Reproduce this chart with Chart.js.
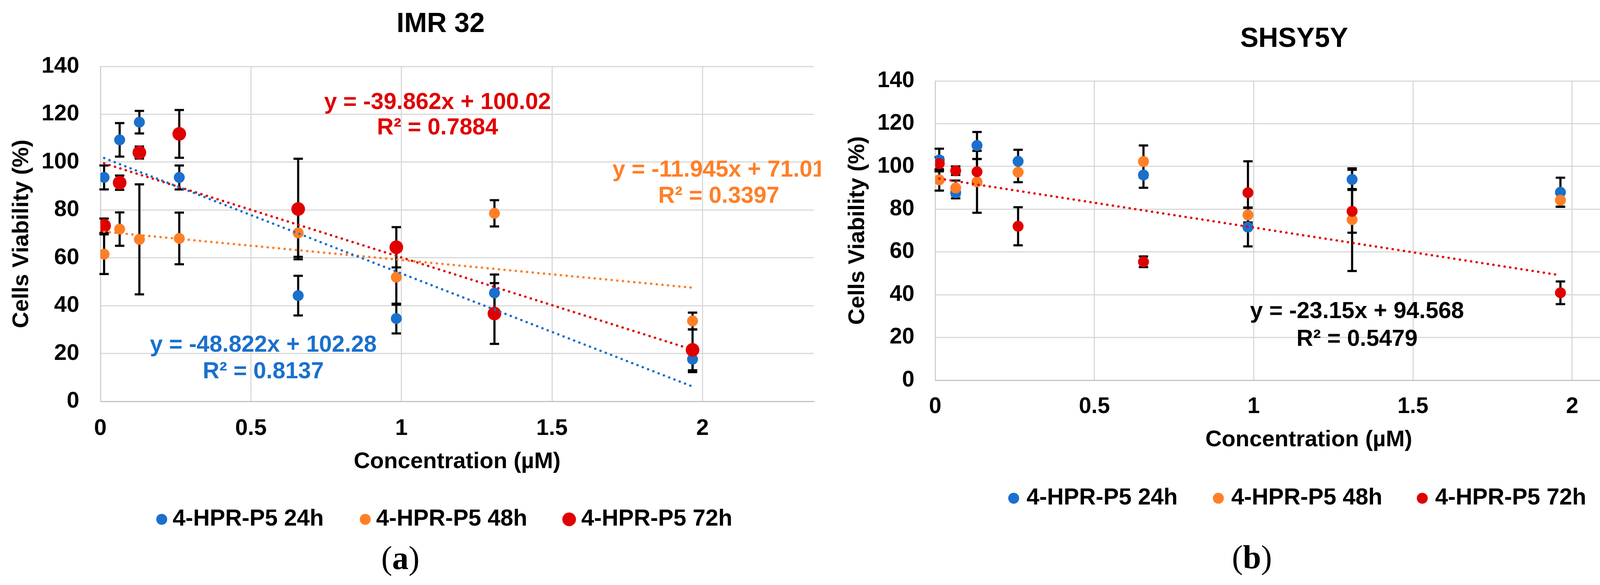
<!DOCTYPE html>
<html>
<head>
<meta charset="utf-8">
<script src="https://cdn.jsdelivr.net/npm/chart.js@4.4.1/dist/chart.umd.min.js"></script>
<style>
    body {
        margin: 0;
        background: #fff;
        width: 4355px;
        height: 1497px;
        position: relative;
        overflow: hidden;
    }
    #imr { position: absolute; left: 0; top: 0; }
    #sh { position: absolute; left: 2150px; top: 0; }
    .cap {
        position: absolute;
        font-family: "Liberation Serif", "Times New Roman", serif;
        font-size: 84px;
        line-height: 1;
        transform: translate(-50%, -50%);
        color: #000;
    }
</style>
</head>
<body>
<canvas id="imr" width="2101" height="1370"></canvas>
<canvas id="sh" width="2205" height="1370"></canvas>
<div class="cap" style="left:1025px;top:1428px">(<b>a</b>)</div>
<div class="cap" style="left:3205px;top:1426px">(<b>b</b>)</div>

<script>
"use strict";

/**
 * Datos
 */
const seriesLabels = ["4-HPR-P5 24h", "4-HPR-P5 48h", "4-HPR-P5 72h"];
const xTickValues = [0, 0.5, 1, 1.5, 2];
const yTickValues = [0, 20, 40, 60, 80, 100, 120, 140];

// IMR 32
const imrConc = [0.0123, 0.064, 0.1295, 0.262, 0.657, 0.983, 1.309, 1.967];
const imr24 = [93.6, 109.3, 116.7, 93.6, 44.2, 34.6, 45.3, 17.6];
const imr24Err = [5, 7, 4.7, 5, 8.3, 6.2, 7.7, 5.4];
const imr48 = [61.5, 72, 67.7, 68.1, 70.4, 51.9, 78.6, 33.6];
const imr48Err = [8.3, 7, 23, 10.8, 10, 11.5, 5.5, 3.5];
const imr72 = [73.4, 91.4, 104, 111.8, 80.4, 64.4, 36.7, 21.5];
const imr72Err = [3, 3, 2.5, 10, 21, 8.4, 12.7, 8.5];
const imrTrend24 = [[0.0123, 101.7], [1.967, 6.2]];
const imrTrend48 = [[0.0123, 70.9], [1.967, 47.5]];
const imrTrend72 = [[0.0123, 99.5], [1.967, 21.6]];

// SHSY5Y
const shConc = [0.0129, 0.0644, 0.1314, 0.2604, 0.654, 0.982, 1.309, 1.963];
const sh24 = [103, 87.7, 109.8, 102.4, 96, 71.6, 93.9, 87.9];
const sh24Err = [5.3, 2.6, 6.3, 5.4, 6, 9, 4.5, 6.8];
const sh48 = [93.7, 89.9, 92.8, 97.3, 102.3, 77.3, 75.1, 84.2];
const sh48Err = [5, 3.5, 14.5, 4.7, 7.5, 3.5, 24, 3];
const sh72 = [101.3, 98, 97.5, 72, 55.4, 87.7, 79, 40.9];
const sh72Err = [3, 2, 6, 8.9, 2.5, 14.7, 10, 5.3];
const shTrend72 = [[0.0129, 94.3], [1.963, 49.1]];

const BLUE = "#1a70cc";
const ORANGE = "#ff7f27";
const RED = "#e00000";
const FONT = '"Liberation Sans", Arial, sans-serif';

function toPoints(xs, ys) {
    return xs.map((x, i) => ({ x: x, y: ys[i] }));
}

/**
 * Barras de error (detras de los marcadores)
 */
const errorBars = {
    id: "errorBars",
    beforeDatasetsDraw(chart) {
        const { ctx } = chart;
        const x = chart.scales.x;
        const y = chart.scales.y;
        ctx.save();
        ctx.strokeStyle = "#000";
        ctx.lineWidth = 5.5;
        chart.data.datasets.forEach((ds) => {
            if (!ds.errors) return;
            ds.data.forEach((p, j) => {
                const e = ds.errors[j];
                const px = x.getPixelForValue(p.x);
                const top = y.getPixelForValue(p.y + e);
                const bot = y.getPixelForValue(p.y - e);
                ctx.beginPath();
                ctx.moveTo(px, top);
                ctx.lineTo(px, bot);
                ctx.moveTo(px - 12, top);
                ctx.lineTo(px + 12, top);
                ctx.moveTo(px - 12, bot);
                ctx.lineTo(px + 12, bot);
                ctx.stroke();
            });
        });
        ctx.restore();
    },
};

/**
 * Titulo, leyenda y ecuaciones de tendencia
 */
const panelText = {
    id: "panelText",
    afterDraw(chart, args, opts) {
        const { ctx } = chart;
        ctx.save();
        ctx.textBaseline = "middle";

        ctx.fillStyle = "#000";
        ctx.textAlign = "center";
        ctx.font = `bold 70px ${FONT}`;
        ctx.fillText(opts.title, opts.titleX, opts.titleY);

        ctx.font = `bold 59px ${FONT}`;
        opts.notes.forEach((note) => {
            ctx.fillStyle = note.color;
            note.lines.forEach((line, k) => {
                ctx.fillText(line, note.x, note.y + k * note.dy);
            });
        });

        ctx.textAlign = "left";
        const items = chart.data.datasets.filter((ds) => ds.errors);
        items.forEach((ds, i) => {
            const pos = opts.legend[i];
            ctx.fillStyle = ds.backgroundColor;
            ctx.beginPath();
            ctx.arc(pos.dot, opts.legendY, pos.r, 0, Math.PI * 2);
            ctx.fill();
            ctx.fillStyle = "#000";
            ctx.fillText(ds.label, pos.text, opts.legendY);
        });
        ctx.restore();
    },
};

function scatterSet(label, color, xs, ys, errs, radius, order) {
    return {
        label: label,
        data: toPoints(xs, ys),
        errors: errs,
        backgroundColor: color,
        borderColor: color,
        borderWidth: 0,
        pointRadius: radius,
        pointHoverRadius: radius,
        order: order,
    };
}

function trendSet(color, pts) {
    return {
        label: "trend",
        data: pts.map((p) => ({ x: p[0], y: p[1] })),
        showLine: true,
        borderColor: color,
        borderWidth: 6,
        borderCapStyle: "round",
        borderDash: [0.5, 14],
        pointRadius: 0,
        fill: false,
        order: 0,
    };
}

function axisOptions(cfg) {
    return {
        x: {
            type: "linear",
            min: 0,
            max: cfg.xMax,
            afterBuildTicks: (axis) => {
                axis.ticks = xTickValues.map((v) => ({ value: v }));
            },
            afterFit: (axis) => {
                axis.height = 200;
            },
            ticks: {
                color: "#000",
                padding: cfg.xTickPad,
                font: { family: FONT, size: cfg.tickSize, weight: "bold" },
                callback: (value) => String(value),
            },
            grid: { color: "#d9d9d9", lineWidth: 3, drawTicks: false },
            border: { color: "#c4c4c4", width: 3 },
            title: {
                display: true,
                text: "Concentration (µM)",
                color: "#000",
                padding: { top: 0, bottom: cfg.xTitlePad },
                font: { family: FONT, size: 58, weight: "bold" },
            },
        },
        y: {
            type: "linear",
            min: 0,
            max: 140,
            afterBuildTicks: (axis) => {
                axis.ticks = yTickValues.map((v) => ({ value: v }));
            },
            afterFit: (axis) => {
                axis.width = cfg.yWidth;
            },
            ticks: {
                color: "#000",
                padding: cfg.yTickPad,
                font: { family: FONT, size: cfg.tickSize, weight: "bold" },
                callback: (value) => String(value),
            },
            grid: { color: "#d9d9d9", lineWidth: 3, drawTicks: false },
            border: { color: "#d0d0d0", width: 3 },
            title: {
                display: true,
                text: "Cells Viability (%)",
                color: "#000",
                padding: { top: cfg.yTitlePad, bottom: 0 },
                font: { family: FONT, size: 58, weight: "bold" },
            },
        },
    };
}

/**
 * Grafica (a) IMR 32
 */
new Chart(document.querySelector("#imr"), {
    type: "scatter",
    data: {
        datasets: [
            scatterSet(seriesLabels[0], BLUE, imrConc, imr24, imr24Err, 14, 3),
            scatterSet(seriesLabels[1], ORANGE, imrConc, imr48, imr48Err, 14, 2),
            scatterSet(seriesLabels[2], RED, imrConc, imr72, imr72Err, 17.5, 1),
            trendSet(BLUE, imrTrend24),
            trendSet(ORANGE, imrTrend48),
            trendSet(RED, imrTrend72),
        ],
    },
    options: {
        responsive: false,
        animation: false,
        devicePixelRatio: 1,
        layout: { padding: { left: 0, right: 0, top: 170, bottom: 143 } },
        scales: axisOptions({
            xMax: 2.37,
            tickSize: 58,
            xTickPad: 35,
            xTitlePad: 10,
            yWidth: 257,
            yTickPad: 54,
            yTitlePad: 21,
        }),
        plugins: {
            legend: { display: false },
            tooltip: { enabled: false },
            panelText: {
                title: "IMR 32",
                titleX: 1128,
                titleY: 63,
                legendY: 1329,
                legend: [
                    { dot: 414, text: 442, r: 14 },
                    { dot: 935, text: 963, r: 14 },
                    { dot: 1457, text: 1488, r: 17.5 },
                ],
                notes: [
                    { lines: ["y = -39.862x + 100.02", "R² = 0.7884"], color: RED, x: 1120, y: 263, dy: 65 },
                    { lines: ["y = -11.945x + 71.01", "R² = 0.3397"], color: ORANGE, x: 1840, y: 436, dy: 67 },
                    { lines: ["y = -48.822x + 102.28", "R² = 0.8137"], color: BLUE, x: 674, y: 884, dy: 68 },
                ],
            },
        },
    },
    plugins: [errorBars, panelText],
});

/**
 * Grafica (b) SHSY5Y
 */
new Chart(document.querySelector("#sh"), {
    type: "scatter",
    data: {
        datasets: [
            scatterSet(seriesLabels[0], BLUE, shConc, sh24, sh24Err, 14, 3),
            scatterSet(seriesLabels[1], ORANGE, shConc, sh48, sh48Err, 14, 2),
            scatterSet(seriesLabels[2], RED, shConc, sh72, sh72Err, 14, 1),
            trendSet(RED, shTrend72),
        ],
    },
    options: {
        responsive: false,
        animation: false,
        devicePixelRatio: 1,
        layout: { padding: { left: 0, right: 48, top: 207, bottom: 197 } },
        scales: axisOptions({
            xMax: 2.346,
            tickSize: 57,
            xTickPad: 34,
            xTitlePad: 12,
            yWidth: 244,
            yTickPad: 53,
            yTitlePad: 11,
        }),
        plugins: {
            legend: { display: false },
            tooltip: { enabled: false },
            panelText: {
                title: "SHSY5Y",
                titleX: 1163,
                titleY: 101,
                legendY: 1275,
                legend: [
                    { dot: 445, text: 478, r: 14 },
                    { dot: 969, text: 1002, r: 14 },
                    { dot: 1491, text: 1524, r: 14 },
                ],
                notes: [
                    { lines: ["y = -23.15x + 94.568", "R² = 0.5479"], color: "#000", x: 1324, y: 798, dy: 71 },
                ],
            },
        },
    },
    plugins: [errorBars, panelText],
});
</script>
</body>
</html>
